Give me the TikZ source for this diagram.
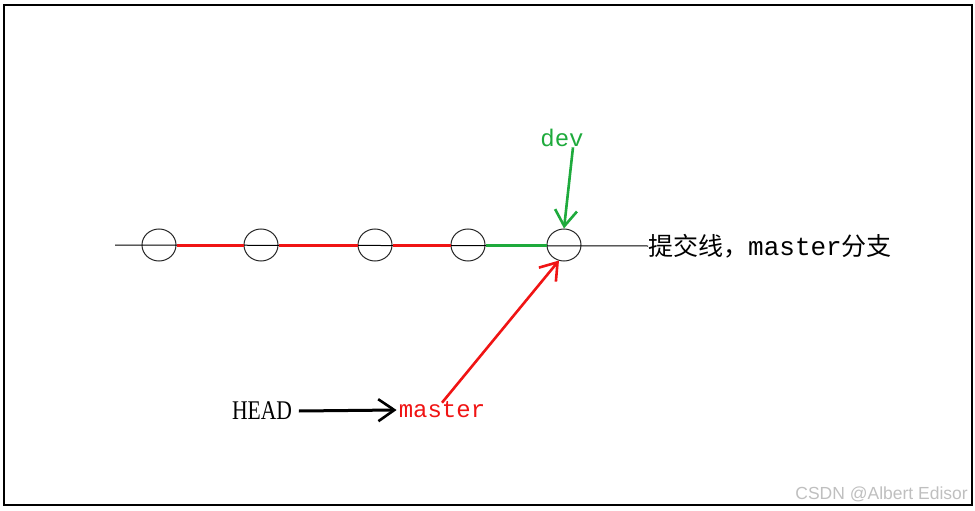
\documentclass[tikz,border=0pt]{standalone}
\usepackage{fontspec}
\setmainfont{Liberation Serif}
\newfontfamily\cjkfont{Noto Sans CJK SC}
\newfontfamily\monofont{Liberation Mono}
\newfontfamily\wmfont{Liberation Sans}
\usetikzlibrary{shapes.geometric,arrows.meta}
\definecolor{pred}{RGB}{240,20,20}
\definecolor{pgreen}{RGB}{30,170,60}
\begin{document}
\begin{tikzpicture}[x=1pt,y=-1pt,
  commit/.style={ellipse,draw=black!85,line width=1pt,inner sep=0pt,minimum width=34pt,minimum height=32pt},
  seg/.style={line width=3pt},
  ptr/.style={line width=2.6pt,-{Straight Barb[length=16pt,width=22pt,line width=2.6pt]}}]
\useasboundingbox (0,0) rectangle (975,511);
\draw[line width=1.3pt] (4,5) rectangle (972,505);
% commits
\node[commit] (c1) at (159,245) {};
\node[commit] (c2) at (261,245) {};
\node[commit] (c3) at (375,245) {};
\node[commit] (c4) at (468,245) {};
\node[commit] (c5) at (564,245) {};
\coordinate (start) at (115,245);
\node[anchor=west,inner sep=0pt,font=\fontsize{25pt}{28pt}\selectfont] (lbl) at (648,246)
  {\cjkfont 提交线，{\monofont\fontsize{26pt}{28pt}\selectfont master}分支};
\draw[line width=1pt] (start) -- (lbl.west);
\draw[seg,pred] (c1.east) -- (c2.west);
\draw[seg,pred] (c2.east) -- (c3.west);
\draw[seg,pred] (c3.east) -- (c4.west);
\draw[seg,pgreen] (c4.east) -- (c5.west);
% labels
\node[pgreen,font=\monofont\fontsize{24pt}{26pt}\selectfont] (dev) at (562,138) {dev};
\node[font=\fontsize{27pt}{28pt}\selectfont,xscale=0.8] (head) at (262,411) {HEAD};
\node[pred,font=\monofont\fontsize{24pt}{26pt}\selectfont,inner sep=2pt] (master) at (442,410) {master};
% pointers
\draw[ptr,pgreen] ([xshift=11pt,yshift=3pt]dev.south) -- (c5.north);
\draw[ptr,pred] ([yshift=-3pt]master.north) -- ([xshift=-5pt,yshift=1pt]c5.south);
\draw[ptr,black,line width=3pt] ([xshift=4pt]head.east) -- (master.west);
% watermark
\node[anchor=east,text=black!25,font=\wmfont\fontsize{17.5pt}{20pt}\selectfont,inner sep=0pt] (wm) at (968,494) {CSDN @Albert Edisor};
\end{tikzpicture}
\end{document}
